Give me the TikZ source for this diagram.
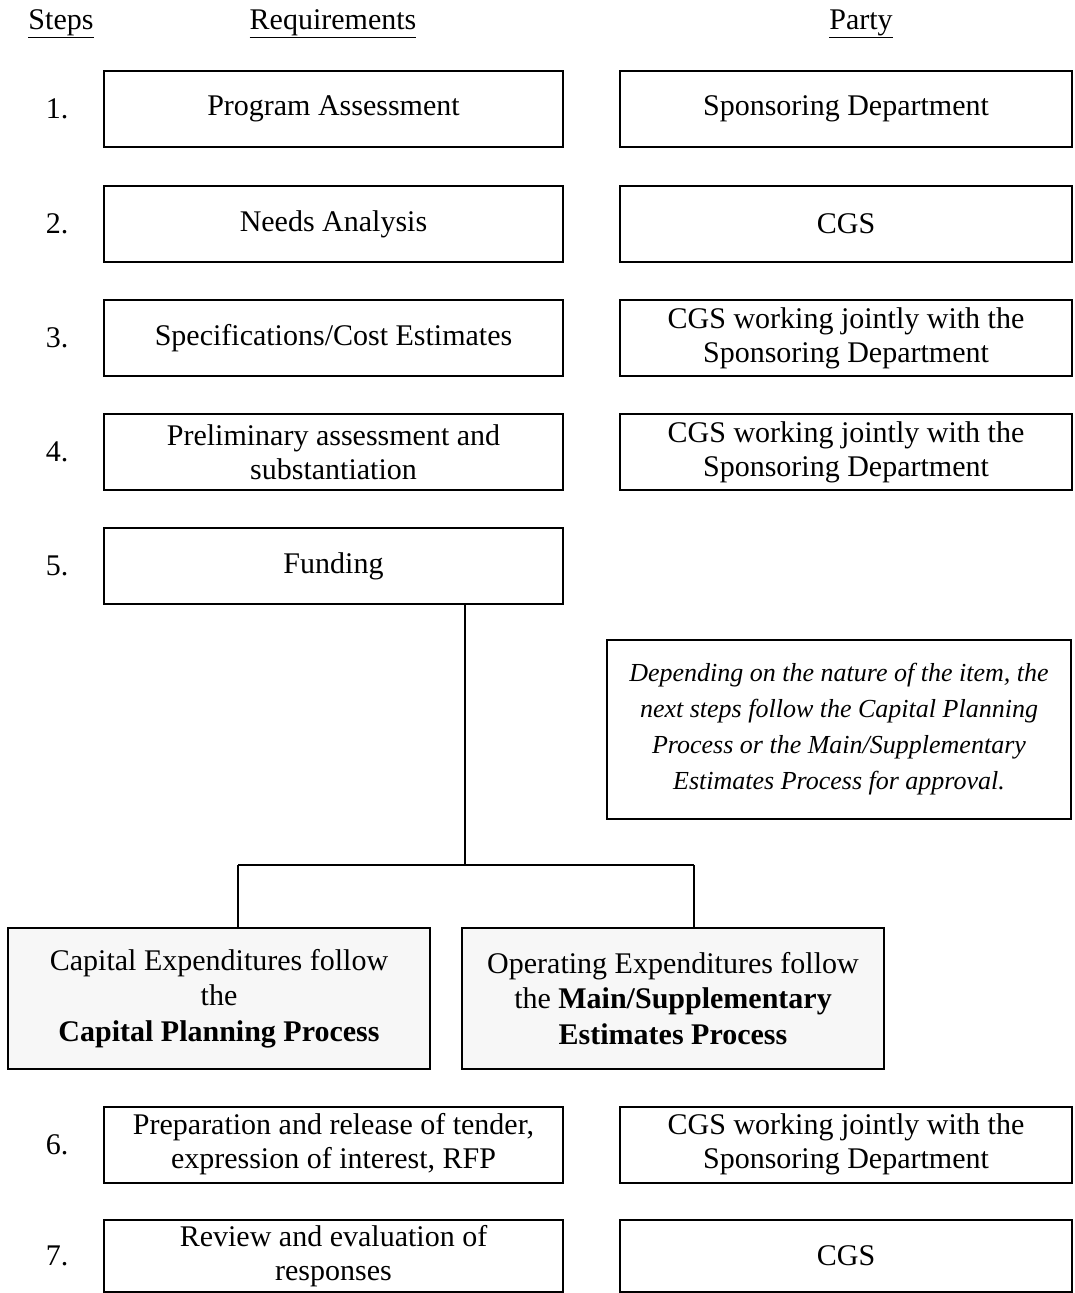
\documentclass[tikz,border=0pt]{standalone}
\usepackage{fontspec}
\setmainfont{Liberation Serif}
\definecolor{shade}{HTML}{F7F7F7}
\tikzset{
  box/.style={draw, line width=2pt, minimum width=459pt, minimum height=76pt, inner sep=0pt, align=center, font=\fontsize{30}{34}\selectfont},
  rbox/.style={box, minimum width=452pt},
  num/.style={inner sep=0pt, font=\fontsize{30}{34}\selectfont},
  hdr/.style={inner sep=0pt, font=\fontsize{30}{34}\selectfont},
  notebox/.style={draw, line width=2pt, minimum width=464pt, minimum height=179pt, inner sep=0pt, align=center, font=\fontsize{26}{36}\selectfont\itshape},
  greybox/.style={draw, line width=2pt, fill=shade, minimum width=422pt, minimum height=141pt, inner sep=0pt, align=center, font=\fontsize{30}{35.5}\selectfont},
  link/.style={line width=1.5pt}
}
\begin{document}
\begin{tikzpicture}[x=1pt,y=-1pt]
\useasboundingbox (0,0) rectangle (1074,1293);
% headers
\node[hdr] (hs) at (61,24) {\underline{Steps}};
\node[hdr] (hr) at (333,24) {\underline{Requirements}};
\node[hdr] (hp) at (861,24) {\underline{Party}};
% row 1
\node[num] (n1) at (57,108.5) {1.};
\node[box] (r1) at (333.5,108.5) {Program Assessment};
\node[rbox] (p1) at (846,108.5) {Sponsoring Department};
% row 2
\node[num] (n2) at (57,224) {2.};
\node[box] (r2) at (333.5,224) {Needs Analysis};
\node[rbox] (p2) at (846,224) {CGS};
% row 3
\node[num] (n3) at (57,338) {3.};
\node[box] (r3) at (333.5,338) {Specifications/Cost Estimates};
\node[rbox] (p3) at (846,338) {CGS working jointly with the\\Sponsoring Department};
% row 4
\node[num] (n4) at (57,452) {4.};
\node[box] (r4) at (333.5,452) {Preliminary assessment and\\substantiation};
\node[rbox] (p4) at (846,452) {CGS working jointly with the\\Sponsoring Department};
% row 5
\node[num] (n5) at (57,566) {5.};
\node[box] (r5) at (333.5,566) {Funding};
% note
\node[notebox] (note) at (839,729.5) {Depending on the nature of the item, the\\next steps follow the Capital Planning\\Process or the Main/Supplementary\\Estimates Process for approval.};
% grey boxes
\node[greybox] (cap) at (219,998.5) {Capital Expenditures follow\\the\\\textbf{Capital Planning Process}};
\node[greybox] (ope) at (673,998.5) {Operating Expenditures follow\\the \textbf{Main/Supplementary}\\\textbf{Estimates Process}};
% connectors
\coordinate (j) at (465,865);
\coordinate (jl) at (238,865);
\coordinate (jr) at (694,865);
\draw[link] (r5.south -| j) -- (j);
\draw[link] (jl) -- (jr);
\draw[link] (jl) -- (jl |- cap.north);
\draw[link] (jr) -- (jr |- ope.north);
% row 6
\node[num] (n6) at (57,1144.5) {6.};
\node[box] (r6) at (333.5,1144.5) {Preparation and release of tender,\\expression of interest, RFP};
\node[rbox] (p6) at (846,1144.5) {CGS working jointly with the\\Sponsoring Department};
% row 7
\node[num] (n7) at (57,1256) {7.};
\node[box, minimum height=72pt] (r7) at (333.5,1256) {Review and evaluation of\\responses};
\node[rbox, minimum height=72pt] (p7) at (846,1256) {CGS};
\end{tikzpicture}
\end{document}
